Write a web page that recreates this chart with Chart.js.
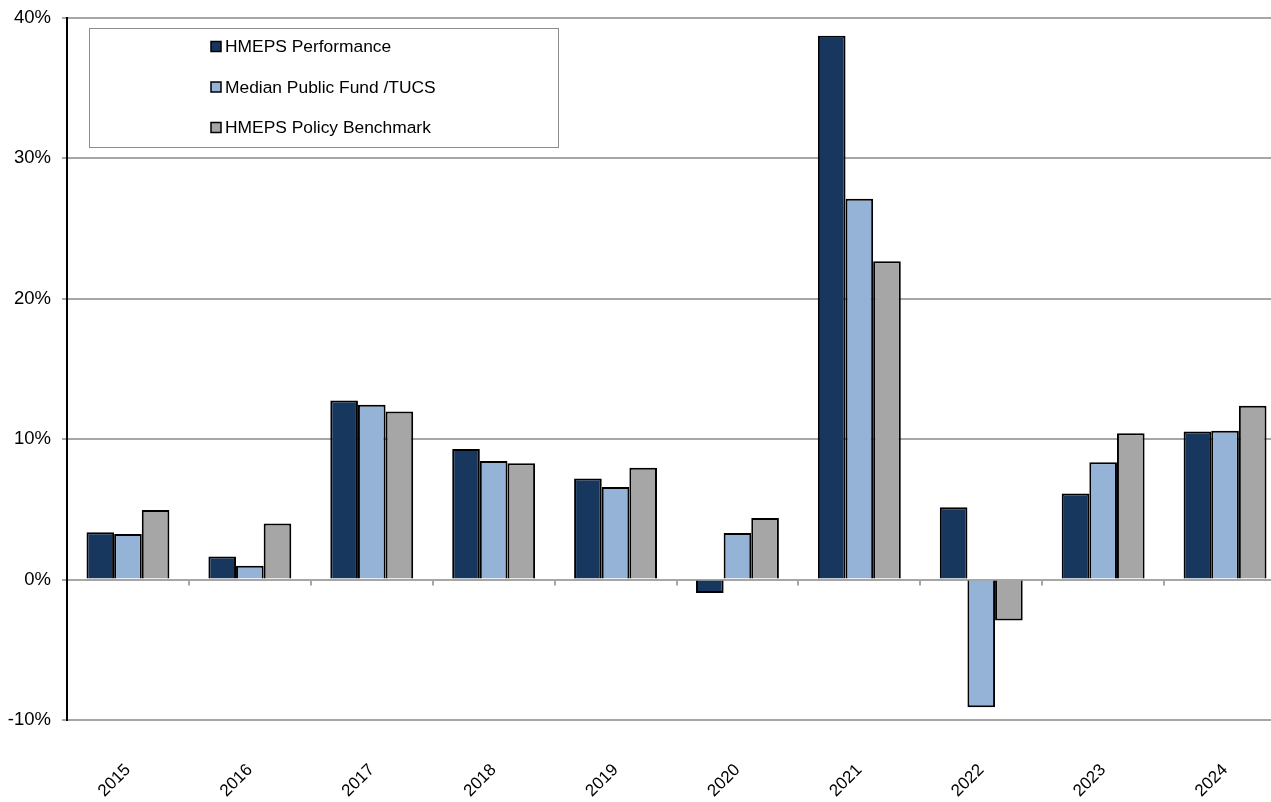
<!DOCTYPE html>
<html>
<head>
<meta charset="utf-8">
<script src="https://cdn.jsdelivr.net/npm/chart.js@4/dist/chart.umd.min.js"></script>
<style>
  html, body { margin: 0; padding: 0; background: #ffffff; overflow: hidden; }
  /* plot runs slightly past the right edge of the page */
  #wrap { width: 1286px; height: 802px; position: relative; }
</style>
</head>
<body>
<div id="wrap"><canvas id="c"></canvas></div>
<script>
// Annual returns, percent
const years = ['2015', '2016', '2017', '2018', '2019', '2020', '2021', '2022', '2023', '2024'];
const hmepsPerformance = [3.38, 1.64, 12.76, 9.31, 7.20, -0.96, 38.74, 5.15, 6.14, 10.55];
const medianPublicFund = [3.24, 0.98, 12.45, 8.45, 6.60, 3.32, 27.12, -9.09, 8.36, 10.60];
const policyBenchmark = [4.95, 4.00, 11.98, 8.28, 7.97, 4.39, 22.68, -2.92, 10.43, 12.38];
const seriesNames = ['HMEPS Performance', 'Median Public Fund /TUCS', 'HMEPS Policy Benchmark'];
const yTicks = [-10, 0, 10, 20, 30, 40];

const FONT = '"Liberation Sans", Arial, sans-serif';

// Small tick marks along the zero line at category boundaries
const zeroLineTicks = {
  id: 'zeroLineTicks',
  afterDatasetsDraw(chart) {
    const x = chart.scales.x, y = chart.scales.y;
    const ctx = chart.ctx;
    const y0 = y.getPixelForValue(0);
    const n = chart.data.labels.length;
    const step = (x.getPixelForValue(1) - x.getPixelForValue(0));
    ctx.save();
    ctx.strokeStyle = '#a6a6a6';
    ctx.lineWidth = 2;
    ctx.beginPath();
    for (let i = 1; i <= n; i++) {
      const px = Math.round(x.getPixelForValue(i - 1) + step / 2);
      ctx.moveTo(px, y0);
      ctx.lineTo(px, y0 + 6);
    }
    ctx.stroke();
    ctx.restore();
  }
};

// Boxed legend drawn inside the plot area
const boxedLegend = {
  id: 'boxedLegend',
  afterDraw(chart) {
    const ctx = chart.ctx;
    const a = chart.chartArea;
    const bx = a.left + 22, by = a.top + 10, bw = 469, bh = 119;
    ctx.save();
    ctx.fillStyle = '#ffffff';
    ctx.fillRect(bx, by, bw, bh);
    ctx.strokeStyle = '#8c8c8c';
    ctx.lineWidth = 1;
    ctx.strokeRect(bx + 0.5, by + 0.5, bw, bh);
    ctx.font = '17.4px ' + FONT;
    ctx.textBaseline = 'middle';
    ctx.textAlign = 'left';
    chart.data.datasets.forEach((ds, i) => {
      const cy = by + 18.5 + i * 40.5;
      const mx = a.left + 144;
      ctx.fillStyle = ds.backgroundColor;
      ctx.fillRect(mx, cy - 5, 10, 10);
      ctx.strokeStyle = '#000000';
      ctx.lineWidth = 1.5;
      ctx.strokeRect(mx, cy - 5, 10, 10);
      ctx.fillStyle = '#000000';
      ctx.fillText(ds.label, mx + 14, cy + 1);
    });
    ctx.restore();
  }
};

const colors = ['#17375e', '#95b3d7', '#a6a6a6'];
const values = [hmepsPerformance, medianPublicFund, policyBenchmark];

new Chart(document.getElementById('c'), {
  type: 'bar',
  data: {
    labels: years,
    datasets: seriesNames.map((name, i) => ({
      label: name,
      data: values[i],
      backgroundColor: colors[i],
      borderColor: '#000000',
      borderWidth: 2,
      barPercentage: 1.0,
      categoryPercentage: 0.68
    }))
  },
  options: {
    responsive: true,
    maintainAspectRatio: false,
    animation: false,
    layout: { padding: { top: 18, right: 0, left: 0, bottom: 0 } },
    plugins: {
      legend: { display: false },
      tooltip: { enabled: false },
      title: { display: false }
    },
    scales: {
      x: {
        offset: true,
        grid: { display: false, drawTicks: false },
        border: { display: false },
        ticks: {
          color: '#000000',
          font: { family: FONT, size: 17 },
          minRotation: 45,
          maxRotation: 45,
          padding: 40,
          autoSkip: false
        },
        afterFit(scale) {
          scale.height = 82;
          scale.paddingLeft = 0;
          scale.paddingRight = 0;
        }
      },
      y: {
        min: -10,
        max: 40,
        afterBuildTicks(scale) { scale.ticks = yTicks.map(v => ({ value: v })); },
        grid: { color: '#a6a6a6', lineWidth: 2, tickLength: 5, drawTicks: true },
        border: { display: true, color: '#000000', width: 2 },
        ticks: {
          color: '#000000',
          font: { family: FONT, size: 18.5 },
          padding: 11,
          callback: v => v + '%'
        },
        afterFit(scale) {
          scale.width = 67;
          scale.paddingTop = 0;
          scale.paddingBottom = 0;
        }
      }
    }
  },
  plugins: [zeroLineTicks, boxedLegend]
});
</script>
</body>
</html>
